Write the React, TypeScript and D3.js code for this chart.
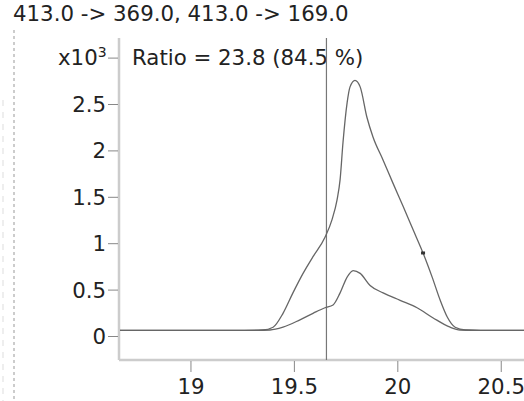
import React from "react";
import * as d3 from "d3";

const title = "413.0 -> 369.0, 413.0 -> 169.0";
const ratioLabel = "Ratio = 23.8 (84.5 %)";
const xTicks = [19, 19.5, 20, 20.5];
const yTicks = [0, 0.5, 1, 1.5, 2, 2.5];
const markerX = 19.655;

const quantTimes = [18.657, 19.2, 19.348, 19.397, 19.445, 19.493, 19.542, 19.59, 19.648, 19.682, 19.706, 19.721, 19.735, 19.755, 19.769, 19.793, 19.818, 19.851, 19.88, 19.929, 19.977, 20.026, 20.074, 20.122, 20.166, 20.205, 20.239, 20.277, 20.326, 20.4, 20.61];
const quantValues = [0.065, 0.065, 0.07, 0.1, 0.25, 0.47, 0.68, 0.86, 1.07, 1.26, 1.47, 1.69, 2.09, 2.52, 2.69, 2.76, 2.69, 2.36, 2.15, 1.9, 1.65, 1.4, 1.15, 0.9, 0.64, 0.39, 0.21, 0.1, 0.07, 0.065, 0.065];

const qualTimes = [18.657, 19.2, 19.382, 19.445, 19.527, 19.59, 19.648, 19.687, 19.721, 19.755, 19.784, 19.818, 19.866, 19.929, 20.011, 20.093, 20.171, 20.253, 20.301, 20.4, 20.61];
const qualValues = [0.065, 0.065, 0.07, 0.1, 0.18, 0.25, 0.31, 0.34, 0.47, 0.64, 0.71, 0.68, 0.55, 0.47, 0.39, 0.31, 0.2, 0.1, 0.07, 0.065, 0.065];

export default function App() {
  const W = 524, H = 401;
  const x = d3.scaleLinear().domain([18.657, 20.61]).range([120, 524]);
  const y = d3.scaleLinear().domain([0, 3]).range([336.5, 58.1]);
  const line = d3
    .line<[number, number]>()
    .x((d) => x(d[0]))
    .y((d) => y(d[1]))
    .curve(d3.curveMonotoneX);
  const quant = quantTimes.map((t, i) => [t, quantValues[i]] as [number, number]);
  const qual = qualTimes.map((t, i) => [t, qualValues[i]] as [number, number]);
  const font = "'DejaVu Sans', Verdana, sans-serif";
  const fs = 21.3;
  const top = 38, bottom = 360;
  return (
    <svg width={W} height={H} style={{ position: "absolute", left: 0, top: 0, background: "#fff" }}>
      <line x1={14} x2={14} y1={30} y2={H} stroke="#999" strokeDasharray="3,3" />
      <line x1={3} x2={3} y1={100} y2={H} stroke="#ddd" strokeDasharray="6,6" />
      <text x={13} y={21} fontFamily={font} fontSize={fs} fill="#222">{title}</text>
      <line x1={119} x2={119} y1={top} y2={bottom} stroke="#ccc" strokeWidth={2.5} />
      <line x1={119} x2={W} y1={bottom} y2={bottom} stroke="#ccc" strokeWidth={2.5} />
      {yTicks.map((v) => (
        <g key={v}>
          <line x1={108} x2={118} y1={y(v)} y2={y(v)} stroke="#888" />
          <text x={106} y={y(v) + 7.5} textAnchor="end" fontFamily={font} fontSize={fs} fill="#222">{v}</text>
        </g>
      ))}
      <line x1={108} x2={118} y1={y(3)} y2={y(3)} stroke="#888" />
      <text x={58} y={y(3) + 7} fontFamily={font} fontSize={fs} fill="#222">
        x10<tspan dy={-8} fontSize={14}>3</tspan>
      </text>
      {xTicks.map((v) => (
        <g key={v}>
          <line x1={x(v)} x2={x(v)} y1={bottom + 1} y2={bottom + 12} stroke="#888" />
          <text x={x(v)} y={394} textAnchor="middle" fontFamily={font} fontSize={fs} fill="#222">{v}</text>
        </g>
      ))}
      <text x={132} y={65} fontFamily={font} fontSize={fs} fill="#222">{ratioLabel}</text>
      <line x1={x(markerX)} x2={x(markerX)} y1={top} y2={bottom} stroke="#777" strokeWidth={1.2} />
      <path d={line(qual) || ""} fill="none" stroke="#666" strokeWidth={1.3} />
      <path d={line(quant) || ""} fill="none" stroke="#666" strokeWidth={1.3} />
      <rect x={x(20.122) - 2} y={y(0.9) - 1.5} width={4} height={3} fill="#333" />
    </svg>
  );
}
